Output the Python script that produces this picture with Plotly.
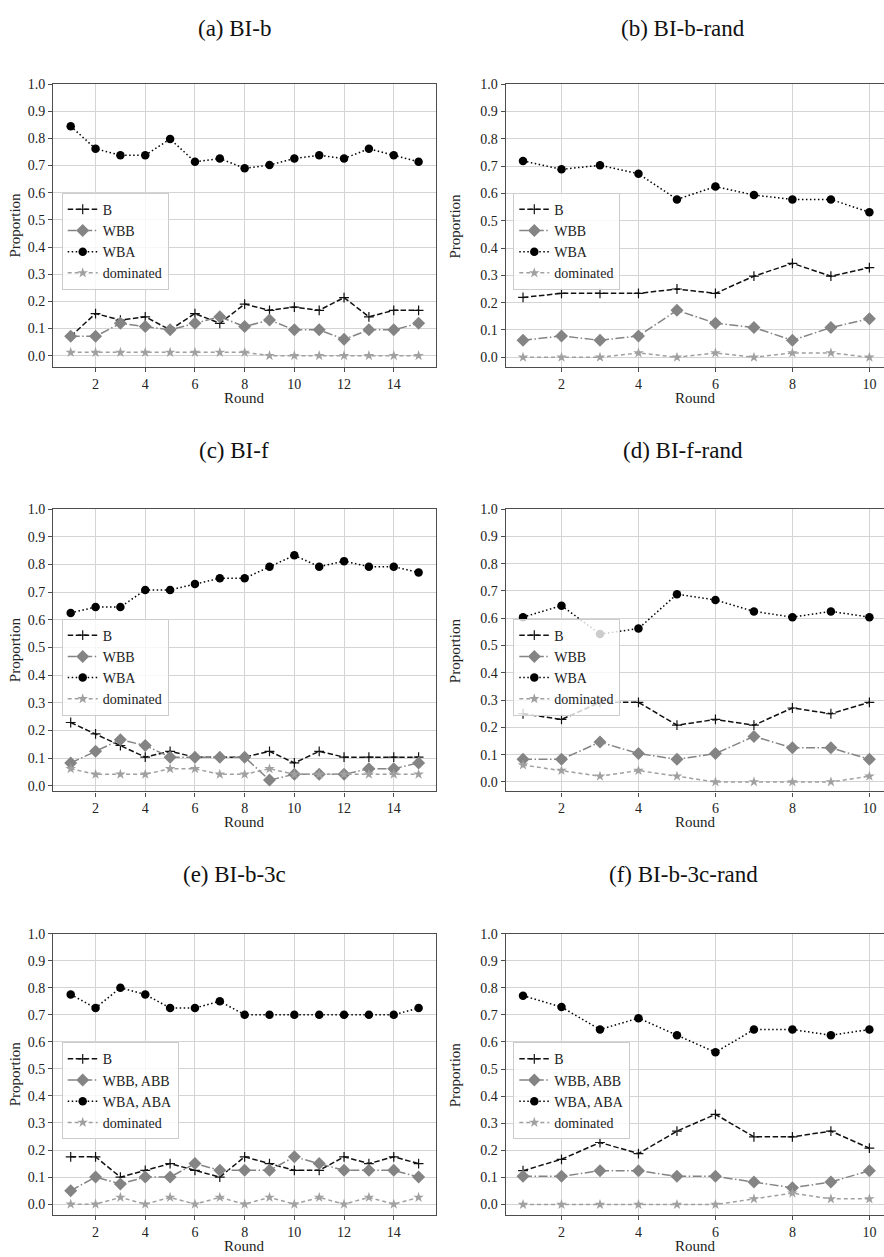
import plotly.graph_objects as go

W, H = 884, 1257

# ---------------- data ----------------
rounds15 = list(range(1, 16))
rounds10 = list(range(1, 11))

a_B = [0.071, 0.155, 0.131, 0.143, 0.095, 0.155, 0.119, 0.190, 0.167, 0.179, 0.167, 0.214, 0.143, 0.167, 0.167]
a_WBB = [0.071, 0.071, 0.119, 0.107, 0.095, 0.119, 0.143, 0.107, 0.131, 0.095, 0.095, 0.060, 0.095, 0.095, 0.119]
a_WBA = [0.845, 0.762, 0.738, 0.738, 0.798, 0.714, 0.726, 0.690, 0.702, 0.726, 0.738, 0.726, 0.762, 0.738, 0.714]
a_dom = [0.012, 0.012, 0.012, 0.012, 0.012, 0.012, 0.012, 0.012, 0.0, 0.0, 0.0, 0.0, 0.0, 0.0, 0.0]

b_B = [0.219, 0.234, 0.234, 0.234, 0.250, 0.234, 0.297, 0.344, 0.297, 0.328]
b_WBB = [0.062, 0.078, 0.062, 0.078, 0.172, 0.125, 0.109, 0.062, 0.109, 0.141]
b_WBA = [0.719, 0.688, 0.703, 0.672, 0.578, 0.625, 0.594, 0.578, 0.578, 0.531]
b_dom = [0.0, 0.0, 0.0, 0.016, 0.0, 0.016, 0.0, 0.016, 0.016, 0.0]

c_B = [0.229, 0.188, 0.146, 0.104, 0.125, 0.104, 0.104, 0.104, 0.125, 0.083, 0.125, 0.104, 0.104, 0.104, 0.104]
c_WBB = [0.083, 0.125, 0.167, 0.146, 0.104, 0.104, 0.104, 0.104, 0.021, 0.042, 0.042, 0.042, 0.062, 0.062, 0.083]
c_WBA = [0.625, 0.646, 0.646, 0.708, 0.708, 0.729, 0.750, 0.750, 0.792, 0.833, 0.792, 0.812, 0.792, 0.792, 0.771]
c_dom = [0.062, 0.042, 0.042, 0.042, 0.062, 0.062, 0.042, 0.042, 0.062, 0.042, 0.042, 0.042, 0.042, 0.042, 0.042]

d_B = [0.250, 0.229, 0.292, 0.292, 0.208, 0.229, 0.208, 0.271, 0.250, 0.292]
d_WBB = [0.083, 0.083, 0.146, 0.104, 0.083, 0.104, 0.167, 0.125, 0.125, 0.083]
d_WBA = [0.604, 0.646, 0.542, 0.562, 0.688, 0.667, 0.625, 0.604, 0.625, 0.604]
d_dom = [0.062, 0.042, 0.021, 0.042, 0.021, 0.0, 0.0, 0.0, 0.0, 0.021]

e_B = [0.175, 0.175, 0.100, 0.125, 0.150, 0.125, 0.100, 0.175, 0.150, 0.125, 0.125, 0.175, 0.150, 0.175, 0.150]
e_WBB = [0.050, 0.100, 0.075, 0.100, 0.100, 0.150, 0.125, 0.125, 0.125, 0.175, 0.150, 0.125, 0.125, 0.125, 0.100]
e_WBA = [0.775, 0.725, 0.800, 0.775, 0.725, 0.725, 0.750, 0.700, 0.700, 0.700, 0.700, 0.700, 0.700, 0.700, 0.725]
e_dom = [0.0, 0.0, 0.025, 0.0, 0.025, 0.0, 0.025, 0.0, 0.025, 0.0, 0.025, 0.0, 0.025, 0.0, 0.025]

f_B = [0.125, 0.167, 0.229, 0.188, 0.271, 0.333, 0.250, 0.250, 0.271, 0.208]
f_WBB = [0.104, 0.104, 0.125, 0.125, 0.104, 0.104, 0.083, 0.062, 0.083, 0.125]
f_WBA = [0.771, 0.729, 0.646, 0.688, 0.625, 0.562, 0.646, 0.646, 0.625, 0.646]
f_dom = [0.0, 0.0, 0.0, 0.0, 0.0, 0.0, 0.021, 0.042, 0.021, 0.021]

titles = ["(a) BI-b", "(b) BI-b-rand", "(c) BI-f", "(d) BI-f-rand", "(e) BI-b-3c", "(f) BI-b-3c-rand"]
names_2 = ["B", "WBB", "WBA", "dominated"]
names_3 = ["B", "WBB, ABB", "WBA, ABA", "dominated"]

panels = [
    (rounds15, [a_B, a_WBB, a_WBA, a_dom], names_2),
    (rounds10, [b_B, b_WBB, b_WBA, b_dom], names_2),
    (rounds15, [c_B, c_WBB, c_WBA, c_dom], names_2),
    (rounds10, [d_B, d_WBB, d_WBA, d_dom], names_2),
    (rounds15, [e_B, e_WBB, e_WBA, e_dom], names_3),
    (rounds10, [f_B, f_WBB, f_WBA, f_dom], names_3),
]

# ---------------- styles ----------------
FONT = "Liberation Serif"
styles = [
    dict(line=dict(color="#111111", width=1.5, dash="5.5px,2.5px"),
         marker=dict(symbol="cross-thin", size=7, color="#111111", line=dict(width=1.2, color="#111111"))),
    dict(line=dict(color="#848484", width=1.5, dash="9px,2.5px,1.5px,2.5px"),
         marker=dict(symbol="diamond", size=10, color="#848484")),
    dict(line=dict(color="#000000", width=1.5, dash="1.5px,2.5px"),
         marker=dict(symbol="circle", size=8.5, color="#000000")),
    dict(line=dict(color="#a0a0a0", width=1.5, dash="4px,3px"),
         marker=dict(symbol="star", size=8, color="#a0a0a0")),
]

# pixel geometry
left_x = (53.3, 436.0)
right_x = (505.7, 884.0)
rows_y = [(77.7, 362.7), (505.7, 790.0), (933.3, 1216.7)]
title_y = [22, 447, 874]
legend_top = [187.0, 616.0, 1042.7]


def px_x(v):
    return v / W


def px_y(v):
    return 1 - v / H


fig = go.Figure()
layout = dict(width=W, height=H, margin=dict(l=0, r=0, t=0, b=0),
              paper_bgcolor="white", plot_bgcolor="white", showlegend=True,
              font=dict(family=FONT, size=15, color="#222222"))
annotations = []

for i, (xs, series, names) in enumerate(panels):
    row, col = divmod(i, 2)
    k = i + 1
    xa = "x" if k == 1 else f"x{k}"
    ya = "y" if k == 1 else f"y{k}"
    lg = "legend" if k == 1 else f"legend{k}"
    for s, nm, st in zip(series, names, styles):
        fig.add_trace(go.Scatter(x=xs, y=s, name=nm, mode="lines+markers",
                                 xaxis=xa, yaxis=ya, legend=lg,
                                 line=st["line"], marker=st["marker"]))
    allv = [v for s in series for v in s]
    lo, hi = min(allv), max(allv)
    ybot = lo - 0.05 * (hi - lo)
    n = len(xs)
    xmargin = 0.05 * (n - 1)
    if col == 0:
        x0p, x1p = left_x
        xr = [1 - xmargin, n + xmargin]
        xticks = list(range(2, 15, 2))
    else:
        x0p = right_x[0]
        full = 381.0
        unit = full / ((n - 1) * 1.1)
        x1p = right_x[1]
        xr = [1 - xmargin, 1 - xmargin + (x1p - x0p) / unit]
        xticks = list(range(2, 11, 2))
    y0p, y1p = rows_y[row]
    axis_common = dict(showgrid=True, gridcolor="#d4d4d4", gridwidth=1,
                       showline=True, linecolor="#4d4d4d", linewidth=1.4,
                       ticks="outside", ticklen=4, tickwidth=1, tickcolor="#4d4d4d",
                       tickfont=dict(family=FONT, size=14, color="#222222"),
                       zeroline=False, fixedrange=True, ticklabeloverflow="allow")
    layout["xaxis" if k == 1 else f"xaxis{k}"] = dict(
        axis_common, domain=[px_x(x0p), px_x(x1p)], range=xr,
        tickmode="array", tickvals=xticks, anchor=ya, mirror=True)
    layout["yaxis" if k == 1 else f"yaxis{k}"] = dict(
        axis_common, domain=[px_y(y1p), px_y(y0p)], range=[ybot, 1.0],
        tickmode="array", tickvals=[j / 10 for j in range(11)],
        ticktext=[f"{j / 10:.1f}" for j in range(11)], anchor=xa,
        mirror=(col == 0))
    layout[lg] = dict(x=px_x((61.7 if col == 0 else 513.3)), y=px_y(legend_top[row]),
                      xanchor="left", yanchor="top", xref="paper", yref="paper",
                      bgcolor="rgba(255,255,255,0.8)", bordercolor="#cccccc", borderwidth=1,
                      font=dict(family=FONT, size=14, color="#222222"),
                      itemwidth=30, tracegroupgap=0)
    # titles and axis labels
    cx = 234 if col == 0 else 683
    annotations.append(dict(text=titles[i], x=px_x(cx), y=px_y(title_y[row]),
                            xref="paper", yref="paper", showarrow=False,
                            xanchor="center", yanchor="middle",
                            font=dict(family=FONT, size=23, color="#111111")))
    plot_cx = (left_x[0] + left_x[1]) / 2 if col == 0 else 695.5
    annotations.append(dict(text="Round", x=px_x(plot_cx), y=px_y(y1p + 31),
                            xref="paper", yref="paper", showarrow=False,
                            xanchor="center", yanchor="middle",
                            font=dict(family=FONT, size=15, color="#222222")))
    annotations.append(dict(text="Proportion", x=px_x(15 if col == 0 else 455),
                            y=px_y((y0p + y1p) / 2), xref="paper", yref="paper",
                            showarrow=False, textangle=-90,
                            xanchor="center", yanchor="middle",
                            font=dict(family=FONT, size=15, color="#222222")))

layout["annotations"] = annotations
fig.update_layout(**layout)
fig.write_html("out.html", config={"displayModeBar": False},
               post_script="document.body.style.margin='0';document.body.style.overflow='hidden';")
